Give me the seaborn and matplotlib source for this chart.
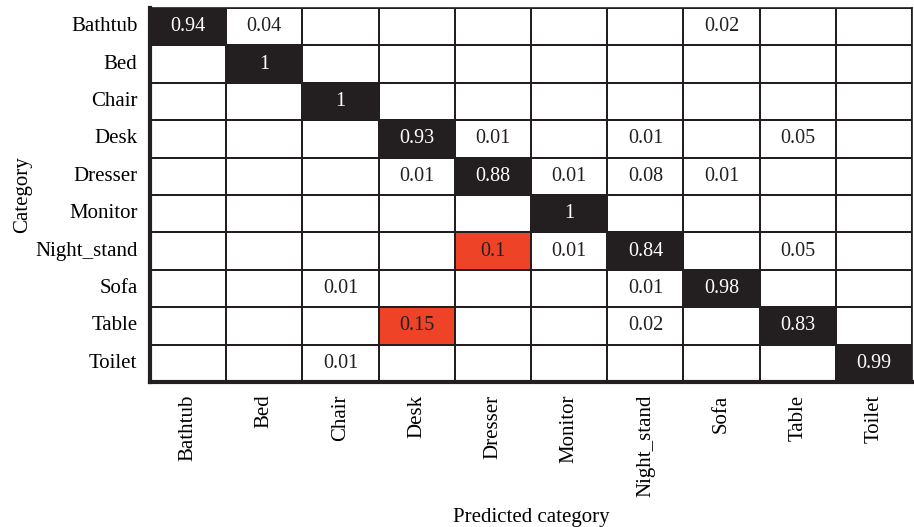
import numpy as np
import pandas as pd
import matplotlib
matplotlib.use("Agg")
import matplotlib.pyplot as plt
from matplotlib.colors import ListedColormap
import seaborn as sns

categories = ["Bathtub", "Bed", "Chair", "Desk", "Dresser", "Monitor",
              "Night_stand", "Sofa", "Table", "Toilet"]

# rows: true category, columns: predicted category
bathtub     = [0.94, 0.04, 0, 0, 0, 0, 0, 0.02, 0, 0]
bed         = [0, 1, 0, 0, 0, 0, 0, 0, 0, 0]
chair       = [0, 0, 1, 0, 0, 0, 0, 0, 0, 0]
desk        = [0, 0, 0, 0.93, 0.01, 0, 0.01, 0, 0.05, 0]
dresser     = [0, 0, 0, 0.01, 0.88, 0.01, 0.08, 0.01, 0, 0]
monitor     = [0, 0, 0, 0, 0, 1, 0, 0, 0, 0]
night_stand = [0, 0, 0, 0, 0.1, 0.01, 0.84, 0, 0.05, 0]
sofa        = [0, 0, 0.01, 0, 0, 0, 0.01, 0.98, 0, 0]
table       = [0, 0, 0, 0.15, 0, 0, 0.02, 0, 0.83, 0]
toilet      = [0, 0, 0.01, 0, 0, 0, 0, 0, 0, 0.99]

values = np.array([bathtub, bed, chair, desk, dresser, monitor,
                   night_stand, sofa, table, toilet])

# colour class: 0 white, 1 red (notable confusion), 2 black (high)
codes = np.where(values >= 0.5, 2, np.where(values >= 0.1, 1, 0))
labels = np.where(values > 0, np.vectorize(lambda v: f"{v:g}")(values), "")

BLACK = "#231f20"
RED = "#ee4326"
cmap = ListedColormap(["white", RED, BLACK])

plt.rcParams["font.family"] = ["Liberation Serif", "DejaVu Serif"]

fig = plt.figure(figsize=(9.14, 5.27), dpi=100)
ax = fig.add_axes([0.164, 0.275, 0.834, 0.71])

sns.heatmap(pd.DataFrame(codes, index=categories, columns=categories),
            cmap=cmap, vmin=-0.5, vmax=2.5, cbar=False,
            annot=labels, fmt="", annot_kws={"fontsize": 14.5},
            linewidths=1.2, linecolor=BLACK, ax=ax)

for txt in ax.texts:
    x, y = txt.get_position()
    c = codes[int(y), int(x)]
    txt.set_color("white" if c == 2 else BLACK)

for name, sp in ax.spines.items():
    sp.set_visible(True)
    sp.set_color(BLACK)
    sp.set_linewidth(3 if name in ("left", "bottom") else 1.2)

ax.tick_params(length=0, labelsize=15, pad=9)
ax.set_yticklabels(categories, rotation=0)
ax.set_xticklabels(categories, rotation=90)
ax.set_xlabel("Predicted category", fontsize=15, labelpad=8)
ax.set_ylabel("Category", fontsize=15, labelpad=2)

fig.savefig("out.png", dpi=100)
